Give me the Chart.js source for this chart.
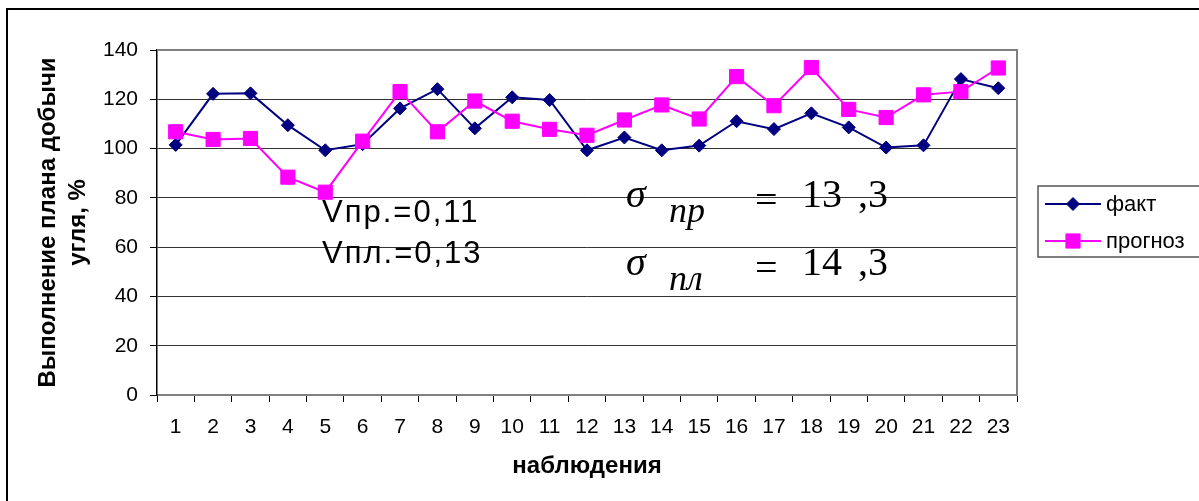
<!DOCTYPE html>
<html>
<head>
<meta charset="utf-8">
<script src="https://cdn.jsdelivr.net/npm/chart.js@4/dist/chart.umd.min.js"></script>
<style>
  html, body { margin: 0; padding: 0; background: #ffffff; }
  canvas { display: block; }
</style>
</head>
<body>
<canvas id="chart" width="1199" height="501"></canvas>
<script>
// Observation numbers along the x axis
const observations = ['1','2','3','4','5','6','7','8','9','10','11','12','13','14','15','16','17','18','19','20','21','22','23'];

// Actual plan fulfilment, %
const factValues = [101.5, 122.2, 122.4, 109.5, 99.3, 101.8, 116.3, 124.1, 108.2, 120.8, 119.7, 99.3,
                    104.5, 99.3, 101.2, 111.1, 107.9, 114.3, 108.6, 100.4, 101.3, 128.2, 124.5];

// Forecast plan fulfilment, %
const forecastValues = [106.8, 103.7, 104.1, 88.4, 82.3, 103.0, 123.1, 106.8, 119.3, 111.1, 107.8, 105.4,
                        111.6, 117.7, 112.0, 129.2, 117.4, 132.9, 115.9, 112.6, 121.8, 123.1, 132.7];

// Value axis ticks
const yTicks = [0, 20, 40, 60, 80, 100, 120, 140];

const SANS = '"Liberation Sans", Arial, sans-serif';
const SERIF = '"Liberation Serif", "Times New Roman", serif';

// White page and the outer frame of the chart
const framePlugin = {
  id: 'frame',
  beforeDraw(chart) {
    const ctx = chart.ctx;
    ctx.save();
    ctx.fillStyle = '#ffffff';
    ctx.fillRect(0, 0, chart.width, chart.height);
    ctx.restore();
  },
  afterDraw(chart) {
    const ctx = chart.ctx;
    const a = chart.chartArea;
    ctx.save();
    // plot area top/right border
    ctx.strokeStyle = '#808080';
    ctx.lineWidth = 2;
    ctx.beginPath();
    ctx.moveTo(a.left, a.top);
    ctx.lineTo(a.right, a.top);
    ctx.lineTo(a.right, a.bottom);
    ctx.stroke();
    // outer frame
    ctx.strokeStyle = '#000000';
    ctx.lineWidth = 2;
    ctx.strokeRect(7, 9, 1260, 600);
    ctx.restore();
  }
};

// Coefficients of variation and standard deviations written over the plot
const notesPlugin = {
  id: 'notes',
  afterDatasetsDraw(chart) {
    const ctx = chart.ctx;
    ctx.save();
    ctx.fillStyle = '#000000';
    ctx.textBaseline = 'alphabetic';
    ctx.textAlign = 'left';

    ctx.font = '31px ' + SANS;
    if ('letterSpacing' in ctx) ctx.letterSpacing = '2px';
    ctx.fillText('Vпр.=0,11', 322, 222);
    ctx.fillText('Vпл.=0,13', 322, 263);
    if ('letterSpacing' in ctx) ctx.letterSpacing = '0px';

    const sigmaRow = (sub, num, yBase) => {
      ctx.font = 'italic 40px ' + SERIF;
      ctx.fillText('σ', 626, yBase);
      ctx.font = 'italic 36px ' + SERIF;
      ctx.fillText(sub, 669, yBase + 15);
      ctx.font = '40px ' + SERIF;
      ctx.fillText('=', 755, yBase + 6);
      ctx.fillText(num, 802, yBase);
      ctx.fillText(',3', 858, yBase);
    };
    sigmaRow('пр', '13', 207);
    sigmaRow('пл', '14', 275);
    ctx.restore();
  }
};

// Legend box to the right of the plot
const legendPlugin = {
  id: 'sideLegend',
  afterDraw(chart) {
    const ctx = chart.ctx;
    ctx.save();
    ctx.strokeStyle = '#555555';
    ctx.lineWidth = 1.5;
    ctx.strokeRect(1038, 186, 200, 71);
    const rows = [204, 241];
    chart.data.datasets.forEach((ds, i) => {
      const y = rows[i];
      ctx.strokeStyle = ds.borderColor;
      ctx.lineWidth = ds.borderWidth;
      ctx.beginPath();
      ctx.moveTo(1045, y);
      ctx.lineTo(1101, y);
      ctx.stroke();
      ctx.fillStyle = ds.backgroundColor;
      ctx.strokeStyle = ds.borderColor;
      ctx.lineWidth = ds.pointBorderWidth;
      Chart.helpers.drawPoint(ctx, {
        pointStyle: ds.pointStyle,
        radius: ds.pointRadius,
        borderWidth: ds.pointBorderWidth,
        rotation: 0
      }, 1073, y);
      ctx.fillStyle = '#000000';
      ctx.font = '22px ' + SANS;
      ctx.textBaseline = 'middle';
      ctx.textAlign = 'left';
      ctx.fillText(ds.label, 1106, y + 1);
    });
    ctx.restore();
  }
};

new Chart(document.getElementById('chart'), {
  type: 'line',
  data: {
    labels: observations,
    datasets: [
      {
        label: 'факт',
        data: factValues,
        borderColor: '#000080',
        backgroundColor: '#000080',
        pointBorderColor: '#000080',
        pointBackgroundColor: '#000080',
        borderWidth: 2,
        pointStyle: 'rectRot',
        pointRadius: 6.5,
        pointBorderWidth: 1,
        tension: 0,
        fill: false,
        order: 2
      },
      {
        label: 'прогноз',
        data: forecastValues,
        borderColor: '#FF00FF',
        backgroundColor: '#FF00FF',
        pointBorderColor: '#FF00FF',
        pointBackgroundColor: '#FF00FF',
        borderWidth: 2,
        pointStyle: 'rect',
        pointRadius: 10,
        pointBorderWidth: 1,
        tension: 0,
        fill: false,
        order: 1
      }
    ]
  },
  options: {
    responsive: false,
    animation: false,
    devicePixelRatio: 1,
    layout: { padding: { left: 0, top: 50, right: 182, bottom: 0 } },
    plugins: {
      legend: { display: false },
      tooltip: { enabled: false }
    },
    scales: {
      x: {
        offset: true,
        grid: {
          offset: true,
          drawOnChartArea: false,
          tickLength: 7,
          tickColor: '#000000',
          tickWidth: 1
        },
        border: { color: '#808080', width: 2 },
        ticks: {
          color: '#000000',
          font: { family: SANS, size: 21 },
          padding: 13,
          maxRotation: 0,
          autoSkip: false
        },
        title: {
          display: true,
          text: 'наблюдения',
          color: '#000000',
          font: { family: SANS, size: 24, weight: 'bold' },
          padding: { top: 0, bottom: 20 }
        },
        afterFit(scale) { scale.height = 106; }
      },
      y: {
        min: 0,
        max: 140,
        afterBuildTicks(scale) { scale.ticks = yTicks.map(v => ({ value: v })); },
        grid: {
          color: c => (c.tick && (c.tick.value === 0 || c.tick.value === 140)) ? 'rgba(0,0,0,0)' : '#333333',
          lineWidth: 1,
          tickLength: 7,
          tickColor: '#000000',
          tickWidth: 1
        },
        border: { color: '#000000', width: 1.5 },
        ticks: {
          color: '#000000',
          font: { family: SANS, size: 21 },
          padding: 12
        },
        title: {
          display: true,
          text: ['Выполнение плана добычи', 'угля, %'],
          color: '#000000',
          font: { family: SANS, size: 24, weight: 'bold', lineHeight: 1.25 },
          padding: { top: 33, bottom: 0 }
        },
        afterFit(scale) { scale.width = 157; }
      }
    }
  },
  plugins: [framePlugin, notesPlugin, legendPlugin]
});
</script>
</body>
</html>
